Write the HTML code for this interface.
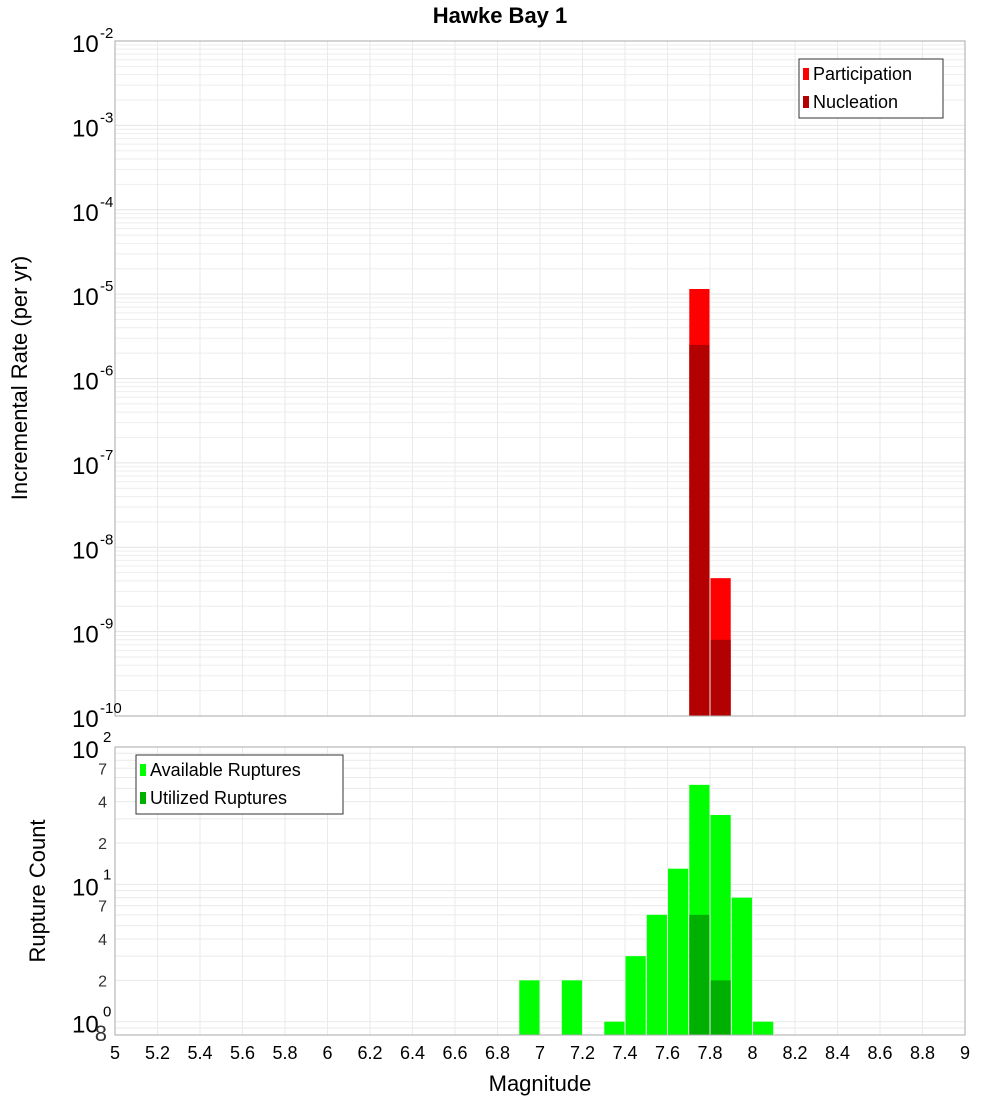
<!DOCTYPE html>
<html><head><meta charset="utf-8"><style>body{margin:0;background:#fff}svg{font-family:"Liberation Sans","DejaVu Sans",sans-serif}</style></head>
<body>
<svg id="c" width="1000" height="1100" xmlns="http://www.w3.org/2000/svg"></svg>
<script>
const mags=[7.75,7.85];
const participation=[1.15e-5,4.3e-9];
const nucleation=[2.5e-6,8e-10];
const countMags=[6.95,7.15,7.35,7.45,7.55,7.65,7.75,7.85,7.95,8.05];
const available=[2,2,1,3,6,13,53,32,8,1];
const utilMags=[7.75,7.85];
const utilized=[6,2];
const xTicks=["5","5.2","5.4","5.6","5.8","6","6.2","6.4","6.6","6.8","7","7.2","7.4","7.6","7.8","8","8.2","8.4","8.6","8.8","9"];

const NS="http://www.w3.org/2000/svg",svg=document.getElementById('c');
function el(t,a,p){const e=document.createElementNS(NS,t);for(const k in a)e.setAttribute(k,a[k]);(p||svg).appendChild(e);return e;}
const X0=115,X1=965;
const x=m=>X0+(m-5)/4*(X1-X0);
const T0=41,T1=716;
const yT=v=>T0+(-2-Math.log10(v))/8*(T1-T0);
const B0=747,B1=1035,bmin=Math.log10(0.8);
const yB=v=>B0+(2-Math.log10(v))/(2-bmin)*(B1-B0);

// grids
for(let d=-10;d<-2;d++)for(let k=1;k<10;k++){const y=yT(k*Math.pow(10,d));const g=el('line',{x1:X0,x2:X1,y1:y,y2:y,stroke:k==1?'#e4e4e4':'#eeeeee','stroke-width':1});

}
for(let d=-1;d<2;d++)for(let k=1;k<10;k++){const v=k*Math.pow(10,d);if(v<0.8||v>100)continue;const y=yB(v);const g=el('line',{x1:X0,x2:X1,y1:y,y2:y,stroke:'#eaeaea','stroke-width':1});

}
xTicks.forEach((t,i)=>{const xx=x(+t);[[T0,T1],[B0,B1]].forEach(r=>{const g=el('line',{x1:xx,x2:xx,y1:r[0],y2:r[1],stroke:'#eaeaea'});

});
const tx=el('text',{x:xx,y:1059,'font-size':18,'text-anchor':'middle'});tx.textContent=t;

});

// bars top
const bw=x(5.095)-x(5);
mags.forEach((m,i)=>{const r=el('rect',{x:x(m)-bw/2,y:yT(participation[i]),width:bw,height:T1-yT(participation[i]),fill:'#ff0000'});

});
mags.forEach((m,i)=>{const r=el('rect',{x:x(m)-bw/2,y:yT(nucleation[i]),width:bw,height:T1-yT(nucleation[i]),fill:'#b30000'});

});
countMags.forEach((m,i)=>{const r=el('rect',{x:x(m)-bw/2,y:yB(available[i]),width:bw,height:B1-yB(available[i]),fill:'#00ff00'});

});
utilMags.forEach((m,i)=>{const r=el('rect',{x:x(m)-bw/2,y:yB(utilized[i]),width:bw,height:B1-yB(utilized[i]),fill:'#00b000'});

});

// frames
[[T0,T1],[B0,B1]].forEach(r=>{const f=el('rect',{x:X0,y:r[0],width:X1-X0,height:r[1]-r[0],fill:'none',stroke:'#aaa'});

});

// y labels top
for(let d=-10;d<=-2;d++){const y=yT(Math.pow(10,d));const t=el('text',{x:72,y:y+11,'font-size':24});t.textContent='10';


const s=el('text',{x:100,y:y-3,'font-size':15});s.textContent=String(d);

}
// y labels bottom
[[100,'2'],[10,'1'],[1,'0']].forEach(p=>{const y=yB(p[0]);const t=el('text',{x:72,y:y+11,'font-size':24});t.textContent='10';


const s=el('text',{x:103,y:y-5,'font-size':15});s.textContent=p[1];

});
[70,40,20,7,4,2,0.8].forEach(v=>{const y=yB(v);const t=el('text',{x:107,y:y+6,'font-size':v==0.8?22:16,'text-anchor':'end',fill:'#333'});t.textContent=v==0.8?'8':String(v>=10?v/10:v);

});

let t=el('text',{x:500,y:23,'font-size':22,'font-weight':'bold','text-anchor':'middle'});t.textContent='Hawke Bay 1';


t=el('text',{x:540,y:1091,'font-size':22,'text-anchor':'middle'});t.textContent='Magnitude';


t=el('text',{x:27,y:378,'font-size':22,'text-anchor':'middle',transform:'rotate(-90 27 378)'});t.textContent='Incremental Rate (per yr)';


t=el('text',{x:45,y:891,'font-size':22,'text-anchor':'middle',transform:'rotate(-90 45 891)'});t.textContent='Rupture Count';



function legend(bx,by,w,items){const b=el('rect',{x:bx,y:by,width:w,height:59,fill:'#fff',stroke:'#333'});


items.forEach((it,i)=>{const r=el('rect',{x:bx+4,y:by+9+i*28,width:6,height:12,fill:it[1]});


const tx=el('text',{x:bx+14,y:by+21+i*28,'font-size':18});tx.textContent=it[0];

});}
legend(799,59,144,[['Participation','#ff0000'],['Nucleation','#b30000']]);
legend(136,755,207,[['Available Ruptures','#00ff00'],['Utilized Ruptures','#00b000']]);
</script>
</body></html>
